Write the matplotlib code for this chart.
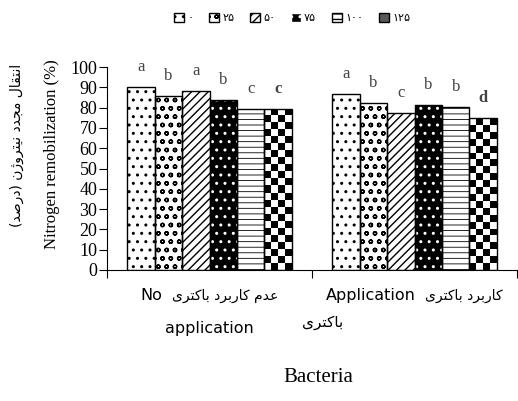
import numpy as np
import matplotlib

matplotlib.use("Agg")
import matplotlib.pyplot as plt  # noqa: E402
from matplotlib.patches import Patch  # noqa: E402
from matplotlib.offsetbox import (TextArea, HPacker, VPacker,  # noqa: E402
                                  AnnotationBbox)

# data
LEVELS = ["۰", "۲۵", "۵۰", "۷۵", "۱۰۰", "۱۲۵"]
GROUP_EN_1 = ["No", "Application"]
GROUP_EN_2 = ["application", ""]
GROUP_FA = ["عدم کاربرد باکتری", "کاربرد باکتری"]
NO_APP = [90.0, 85.7, 88.2, 83.6, 79.2, 79.5]
APP = [86.9, 82.4, 77.3, 81.4, 80.3, 74.7]
LETTERS_NO = ["a", "b", "a", "b", "c", "c"]
LETTERS_APP = ["a", "b", "c", "b", "b", "d"]
YTICKS = list(range(0, 101, 10))

YLABEL_EN = "Nitrogen remobilization (%)"
YLABEL_FA = "انتقال مجدد نیتروژن (درصد)"
XLABEL_EN = "Bacteria"
XLABEL_FA = "باکتری"

# (face, hatch, hatch colour, hatch width) per level; last is a checkerboard
STYLES = [
    ("white", "..", "black", 1.0),
    ("white", "oo", "black", 1.0),
    ("white", "////", "black", 1.0),
    ("black", "..", "white", 1.0),
    ("white", "---", "black", 0.6),
    ("white", "", "black", 1.0),
]
BOLD = {(0, 5), (1, 5)}

# crude Persian shaping: isolated, final, initial, medial
FORMS = {
    "ا": (0xFE8D, 0xFE8E, None, None),
    "ب": (0xFE8F, 0xFE90, 0xFE91, 0xFE92),
    "ت": (0xFE95, 0xFE96, 0xFE97, 0xFE98),
    "ج": (0xFE9D, 0xFE9E, 0xFE9F, 0xFEA0),
    "د": (0xFEA9, 0xFEAA, None, None),
    "ر": (0xFEAD, 0xFEAE, None, None),
    "ص": (0xFEB9, 0xFEBA, 0xFEBB, 0xFEBC),
    "ع": (0xFEC9, 0xFECA, 0xFECB, 0xFECC),
    "ق": (0xFED5, 0xFED6, 0xFED7, 0xFED8),
    "ل": (0xFEDD, 0xFEDE, 0xFEDF, 0xFEE0),
    "م": (0xFEE1, 0xFEE2, 0xFEE3, 0xFEE4),
    "ن": (0xFEE5, 0xFEE6, 0xFEE7, 0xFEE8),
    "و": (0xFEED, 0xFEEE, None, None),
    "ژ": (0xFB8A, 0xFB8B, None, None),
    "ک": (0xFB8E, 0xFB8F, 0xFB90, 0xFB91),
    "ك": (0xFED9, 0xFEDA, 0xFEDB, 0xFEDC),
    "ی": (0xFBFC, 0xFBFD, 0xFBFE, 0xFBFF),
    "ي": (0xFEF1, 0xFEF2, 0xFEF3, 0xFEF4),
}


def shape(text):
    out = []
    for i, c in enumerate(text):
        if c not in FORMS:
            out.append(c)
            continue
        iso, fin, ini, med = FORMS[c]
        prev = text[i - 1] if i > 0 else None
        nxt = text[i + 1] if i + 1 < len(text) else None
        jp = prev in FORMS and FORMS[prev][2] is not None
        jn = ini is not None and nxt in FORMS
        g = med if (jp and jn) else fin if jp else ini if jn else iso
        out.append(chr(g))
    mirror = {"(": ")", ")": "("}
    return "".join(mirror.get(c, c) for c in reversed(out))


plt.rcParams["font.family"] = "Liberation Serif"
FA = ["DejaVu Sans"]

fig = plt.figure(figsize=(5.18, 4.01), dpi=100)
ax = fig.add_axes([107 / 518, 1 - 270 / 401, 410 / 518, 203 / 401])

x = np.arange(2)
w = 0.134
series = list(zip(NO_APP, APP))
letters = list(zip(LETTERS_NO, LETTERS_APP))
outlines = []
for i, vals in enumerate(series):
    face, hatch, hc, hlw = STYLES[i]
    pos = x + (i - 2.5) * w
    with plt.rc_context({"hatch.linewidth": hlw}):
        ax.bar(pos, vals, w, color=face, hatch=hatch, edgecolor=hc,
               linewidth=0, zorder=1)
    bars = ax.bar(pos, vals, w, fill=False, edgecolor="black",
                  linewidth=1.0, zorder=3)
    outlines.append(bars)
    for g, (p, v) in enumerate(zip(pos, vals)):
        ax.annotate(letters[i][g], (p, v), xytext=(0, 11.5),
                    textcoords="offset points", ha="center", va="baseline",
                    fontsize=12, color="#444444",
                    fontweight="bold" if (g, i) in BOLD else "normal")

ax.set_xlim(-0.5, 1.5)
ax.set_ylim(0, 100)

# checkerboard for the last level
for b in outlines[-1]:
    bb = b.get_window_extent()
    ncols = 4
    nrows = max(1, int(round(bb.height / (bb.width / ncols))))
    checker = np.add.outer(np.arange(nrows), np.arange(ncols)) % 2
    im = ax.imshow(checker, cmap="gray_r", interpolation="nearest",
                   aspect="auto", origin="upper", zorder=2,
                   extent=(b.get_x(), b.get_x() + b.get_width(),
                           0, b.get_height()))
    im.set_clip_path(b)

ax.set_xlim(-0.5, 1.5)
ax.set_ylim(0, 100)
ax.set_yticks(YTICKS)
ax.tick_params(axis="y", labelsize=13, length=6, pad=1)
ax.set_xticks([-0.5, 0.5, 1.5])
ax.set_xticklabels([])
ax.tick_params(axis="x", length=6)
for s in ("top", "right"):
    ax.spines[s].set_visible(False)

en_props = dict(family=FA, fontsize=11.5, color="black")
fa_props = dict(family=FA, fontsize=10, color="black")
for g in range(2):
    row = HPacker(children=[TextArea(GROUP_EN_1[g], textprops=en_props),
                            TextArea(shape(GROUP_FA[g]), textprops=fa_props)],
                  align="baseline", pad=0, sep=7)
    rows = [row]
    if GROUP_EN_2[g]:
        rows.append(TextArea(GROUP_EN_2[g], textprops=en_props))
    box = VPacker(children=rows, align="center", pad=0, sep=13)
    ab = AnnotationBbox(box, (x[g], 0), xycoords=("data", "axes fraction"),
                        xybox=(0, -13), boxcoords="offset points",
                        box_alignment=(0.5, 1), frameon=False, pad=0)
    ax.add_artist(ab)

fig.text(52 / 518, 1 - 154 / 401, YLABEL_EN, rotation=90,
         ha="center", va="center", fontsize=12)
fig.text(17 / 518, 1 - 145 / 401, shape(YLABEL_FA), rotation=90,
         ha="center", va="center", fontsize=10, family=FA)
fig.text(323 / 518, 1 - 323 / 401, shape(XLABEL_FA),
         ha="center", va="center", fontsize=11, family=FA)
fig.text(318 / 518, 1 - 378 / 401, XLABEL_EN,
         ha="center", va="center", fontsize=15)

handles = []
for i, (face, hatch, hc, hlw) in enumerate(STYLES):
    if i == len(STYLES) - 1:
        handles.append(Patch(facecolor="0.35", edgecolor="black"))
    else:
        handles.append(Patch(facecolor=face, hatch=hatch, edgecolor=hc))
fig.legend(handles, LEVELS, loc="center", bbox_to_anchor=(292 / 518, 1 - 18 / 401),
           ncol=6, frameon=False, prop={"family": FA, "size": 8},
           handlelength=0.9, handleheight=0.9, handletextpad=0.3,
           columnspacing=1.4, borderpad=0)

fig.savefig("out.png", dpi=100)
